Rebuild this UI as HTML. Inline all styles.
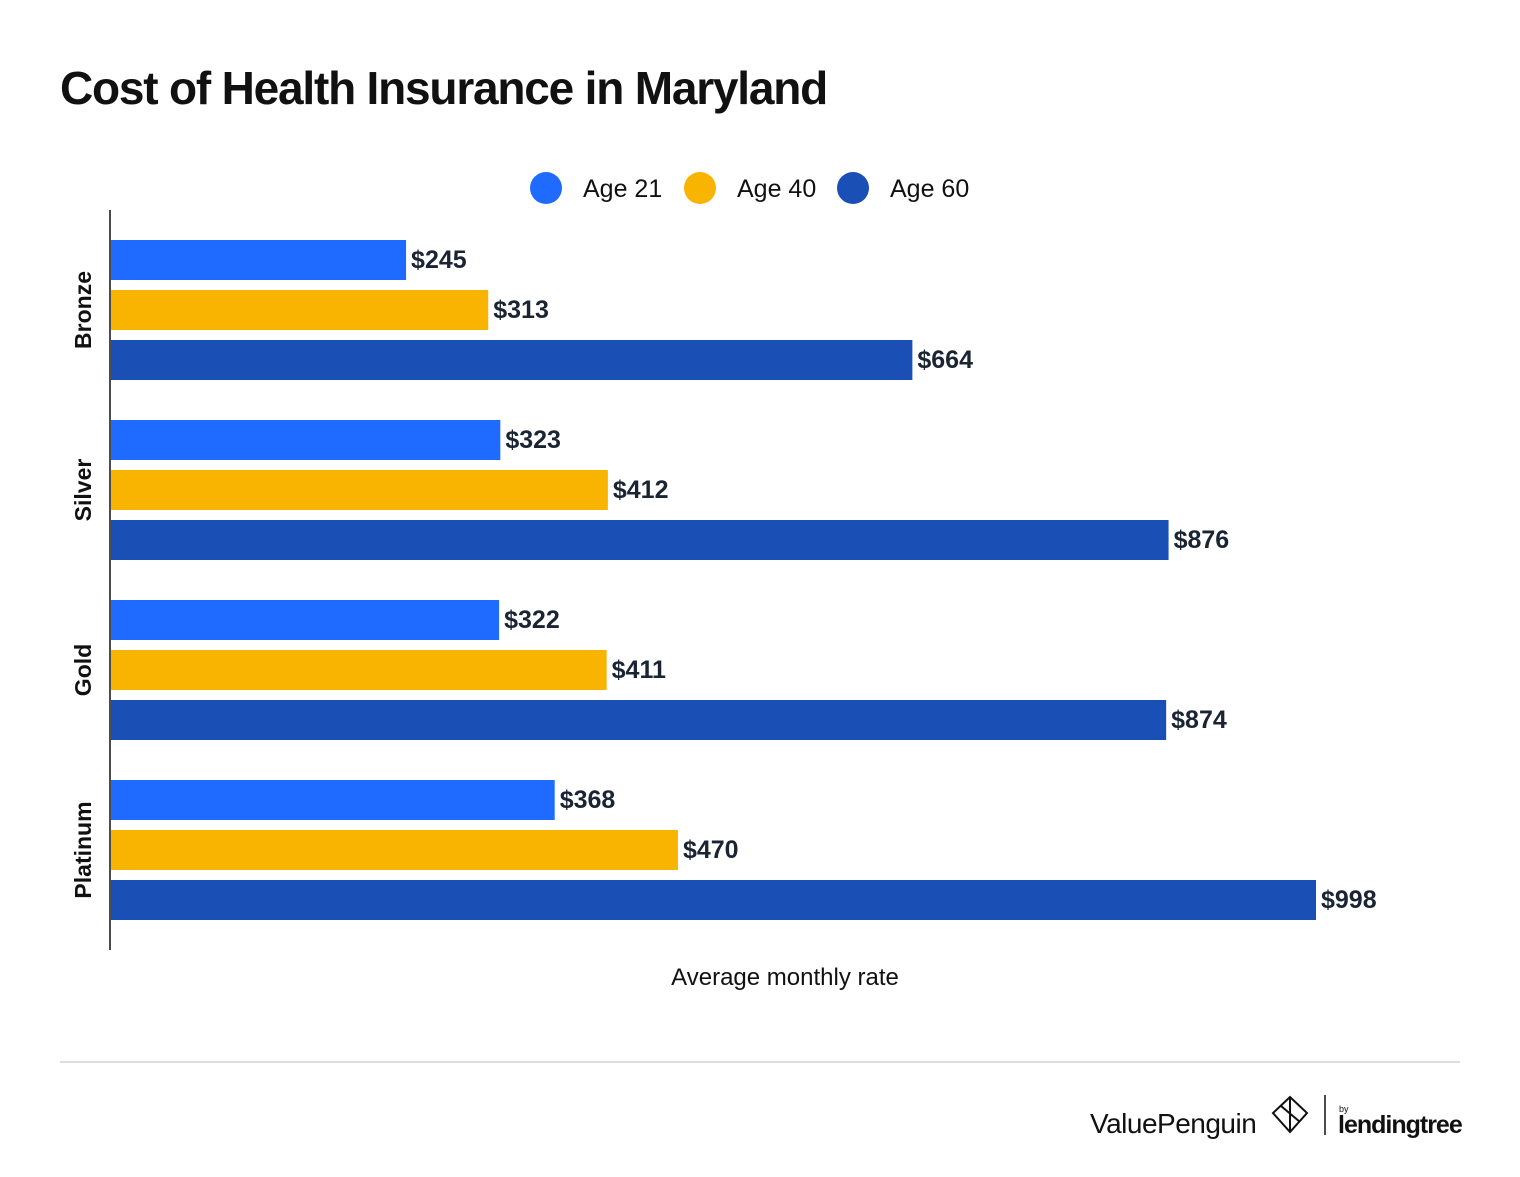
<!DOCTYPE html>
<html><head><meta charset="utf-8"><style>
body{margin:0;background:#fff;width:1520px;height:1172px;overflow:hidden;font-family:"Liberation Sans",sans-serif;}
</style></head><body>
<svg width="1520" height="1172" xmlns="http://www.w3.org/2000/svg" id="chart">
<text x="60" y="104" font-size="46" font-weight="bold" fill="#111" letter-spacing="-1.2">Cost of Health Insurance in Maryland</text>
<g id="legend"></g>
<line x1="110" y1="210" x2="110" y2="950" stroke="#111" stroke-width="1.5"/>
<g id="bars"></g>
<text x="785" y="985" font-size="24" text-anchor="middle" fill="#111">Average monthly rate</text>
<line x1="60" y1="1062" x2="1460" y2="1062" stroke="#ddd" stroke-width="2"/>
<g>
<text x="1090" y="1133" font-size="28" fill="#111" letter-spacing="-0.5">ValuePenguin</text>
<path d="M1290 1097 L1307 1113 L1290 1132 L1273 1113 Z M1290 1097 L1290 1132 M1281 1106 L1300 1122" stroke="#111" stroke-width="2" fill="none"/>
<line x1="1325" y1="1095" x2="1325" y2="1135" stroke="#111" stroke-width="1.5"/>
<text x="1339" y="1112" font-size="9" fill="#111">by</text>
<text x="1338" y="1133" font-size="25" font-weight="bold" fill="#111" letter-spacing="-1">lendingtree</text>
</g>
</svg>
<script>
const categories=["Bronze","Silver","Gold","Platinum"];
const seriesNames=["Age 21","Age 40","Age 60"];
const age21=[245,323,322,368];
const age40=[313,412,411,470];
const age60=[664,876,874,998];
const colors=["#1f6bff","#f8b400","#1a4fb5"];
const series=[age21,age40,age60];
const NS="http://www.w3.org/2000/svg";
const x0=110, pxPer=1206/998;
function xs(v){return x0+v*pxPer;}
function ys(ci,si){return 240+ci*180+si*50;}
function mk(tag,attrs,parent){const e=document.createElementNS(NS,tag);for(const k in attrs)e.setAttribute(k,attrs[k]);parent.appendChild(e);return e;}
const bars=document.getElementById('bars');
categories.forEach((c,ci)=>{
  const t=mk('text',{transform:`translate(91,${ys(ci,1)+20}) rotate(-90)`,'text-anchor':'middle','font-size':'23','font-weight':'bold',fill:'#111'},bars);
  t.textContent=c;
  
  
  series.forEach((s,si)=>{
    const r=mk('rect',{x:x0+1,y:ys(ci,si),width:xs(s[ci])-x0-1,height:40,fill:colors[si]},bars);
    
    
    const l=mk('text',{x:xs(s[ci])+5,y:ys(ci,si)+28,'font-size':'25','font-weight':'bold',fill:'#1a2433'},bars);
    l.textContent='$'+s[ci];
    
    
  });
});
const lg=document.getElementById('legend');
const lx=[546,700,853];
seriesNames.forEach((n,i)=>{
  const c=mk('circle',{cx:lx[i],cy:188,r:16,fill:colors[i]},lg);
  
  
  const t=mk('text',{x:lx[i]+37,y:197,'font-size':'25',fill:'#111'},lg);
  t.textContent=n;
  
  
});
</script>
</body></html>
